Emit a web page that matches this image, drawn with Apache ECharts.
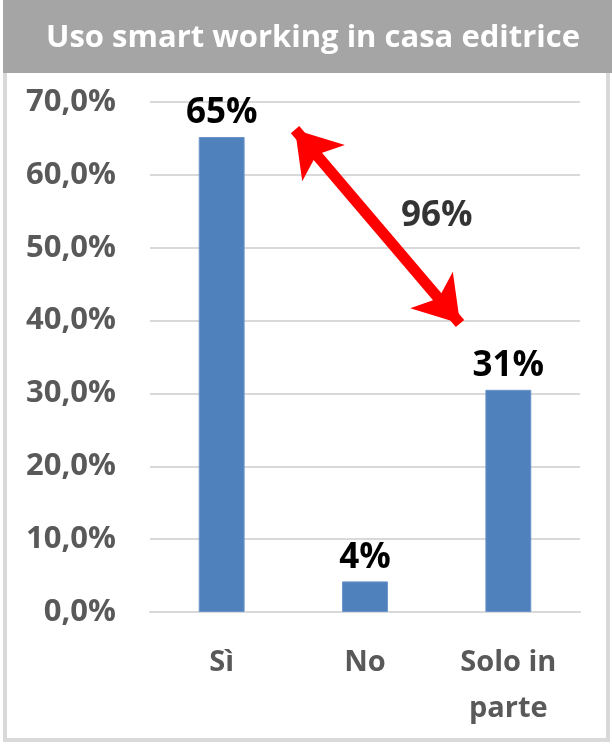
<!DOCTYPE html>
<html>
<head>
<meta charset="utf-8">
<script src="https://cdn.jsdelivr.net/npm/echarts@6/dist/echarts.min.js"></script>
<style>
  html, body { margin: 0; padding: 0; background: #fff; }
  #chart { width: 612px; height: 744px; }
</style>
</head>
<body>
<div id="chart"></div>
<script>
// dati
const categories = ['Sì', 'No', 'Solo in\nparte']
const values = [65.2, 4.2, 30.5]
const valueLabels = ['65%', '4%', '31%']
const yTicks = [0, 10, 20, 30, 40, 50, 60, 70]

// freccia rossa (coordinate dati: x = indice categoria, y = %)
const arrowFrom = [0.512, 66.2]
const arrowTo = [1.663, 39.6]
const arrowLabel = [1.5, 54.4]
const arrowText = '96%'

const FONT = '"Open Sans", "Noto Sans", sans-serif'

const chart = echarts.init(document.getElementById('chart'), null, { renderer: 'canvas' })

const option = {
  backgroundColor: '#ffffff',
  animation: false,
  graphic: [
    // cornice grigia
    { type: 'rect', shape: { x: 5, y: 2, width: 603, height: 738 }, style: { fill: 'none', stroke: '#d9d9d9', lineWidth: 4 }, z: 0 },
    // banda del titolo
    { type: 'rect', shape: { x: 3, y: 0, width: 609, height: 73 }, style: { fill: '#a5a5a5' }, z: 1 }
  ],
  title: {
    text: 'Uso smart working in casa editrice',
    left: 308,
    textAlign: 'center',
    top: 18,
    textStyle: { color: '#ffffff', fontSize: 31, fontWeight: 'bold', fontFamily: FONT }
  },
  grid: { left: 150, right: 32, top: 102, bottom: 132 },
  xAxis: [
    {
      type: 'category',
      data: categories,
      axisTick: { show: false },
      axisLine: { lineStyle: { color: '#d9d9d9', width: 2 } },
      axisLabel: {
        color: '#595959', fontSize: 29, fontWeight: 'bold', fontFamily: FONT,
        lineHeight: 46, margin: 28, interval: 0
      }
    },
    { type: 'value', min: -0.5, max: 2.5, show: false }
  ],
  yAxis: {
    type: 'value',
    min: yTicks[0],
    max: yTicks[yTicks.length - 1],
    interval: 10,
    axisLine: { show: false },
    axisTick: { show: false },
    splitLine: { lineStyle: { color: '#d9d9d9', width: 2 } },
    axisLabel: {
      color: '#595959', fontSize: 31, fontWeight: 'bold', fontFamily: FONT, margin: 34,
      formatter: v => v.toFixed(1).replace('.', ',') + '%'
    }
  },
  series: [
    {
      type: 'bar',
      data: values,
      barWidth: '32%',
      itemStyle: { color: '#4f81bd', borderColor: '#6b93c9', borderWidth: 1 },
      label: {
        show: true, position: 'top', distance: 6,
        color: '#000000', fontSize: 35, fontWeight: 'bold', fontFamily: FONT,
        formatter: p => valueLabels[p.dataIndex]
      }
    },
    {
      type: 'scatter',
      xAxisIndex: 1,
      data: [arrowLabel],
      symbolSize: 0,
      silent: true,
      label: {
        show: true, position: 'inside',
        color: '#000000', fontSize: 35, fontWeight: 'bold', fontFamily: FONT,
        formatter: () => arrowText
      },
      markLine: {
        silent: true,
        symbol: ['arrow', 'arrow'],
        symbolSize: [42, 44],
        label: { show: false },
        lineStyle: { color: '#ff0000', width: 11, type: 'solid' },
        data: [[{ coord: arrowFrom }, { coord: arrowTo }]]
      }
    }
  ]
}

chart.setOption(option)
</script>
</body>
</html>
